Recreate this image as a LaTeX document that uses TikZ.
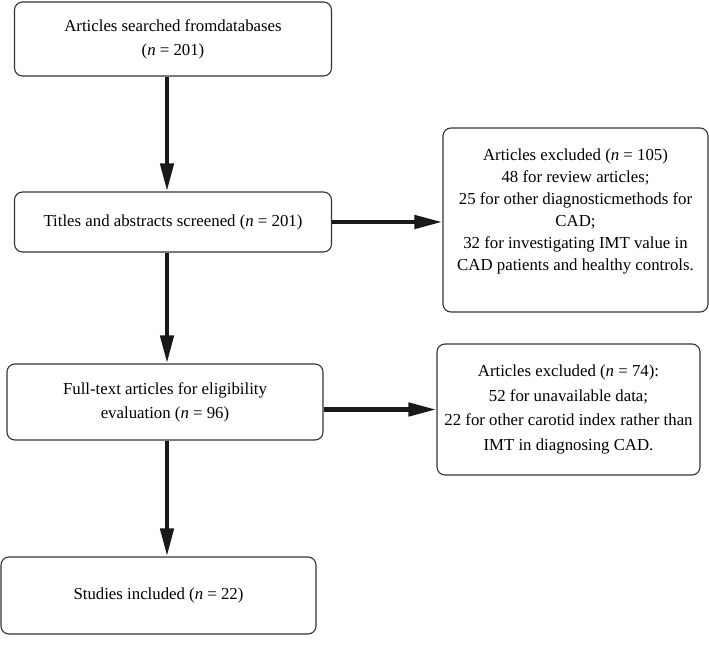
\documentclass[tikz,border=0pt]{standalone}
\usepackage{fontspec}
\setmainfont{Liberation Serif}
\usetikzlibrary{arrows.meta}
\begin{document}
\begin{tikzpicture}[x=1pt,y=-1pt,
  box/.style={draw=black!80,line width=1.1pt,rounded corners=8pt,align=center,
    inner sep=0pt,font=\fontsize{16.8}{24}\selectfont},
  arr/.style={line width=4.5pt,black!90,-{Triangle[length=28pt,width=13pt]}}]
  \useasboundingbox (0,0) rectangle (709,650);
  \coordinate (spine) at (167,0);
  \node [box,minimum width=317pt,minimum height=74pt] (search) at (173,39)
    {Articles searched fromdatabases\\(\textit{n} = 201)};
  \node [box,minimum width=317pt,minimum height=60pt] (screen) at (173,222)
    {Titles and abstracts screened (\textit{n} = 201)};
  \node [box,minimum width=265pt,minimum height=184pt,font=\fontsize{16.8}{22}\selectfont] (excl1) at (575.5,220)
    {Articles excluded (\textit{n} = 105)\\48 for review articles;\\25 for other diagnosticmethods for\\CAD;\\32 for investigating IMT value in\\CAD patients and healthy controls.\\[-2pt]\mbox{}};
  \node [box,minimum width=316pt,minimum height=76pt] (full) at (165,402)
    {Full-text articles for eligibility\\evaluation (\textit{n} = 96)};
  \node [box,minimum width=263pt,minimum height=131pt,font=\fontsize{16.8}{24.5}\selectfont] (excl2) at (568.5,409.5)
    {Articles excluded (\textit{n} = 74):\\52 for unavailable data;\\22 for other carotid index rather than\\IMT in diagnosing CAD.};
  \node [box,minimum width=315pt,minimum height=77pt] (incl) at (158.5,595.5)
    {Studies included (\textit{n} = 22)};
  % connectors
  \draw [arr] (search.south -| spine) -- (screen.north -| spine);
  \draw [arr] (screen.south -| spine) -- (full.north -| spine);
  \draw [arr] (full.south -| spine) -- (incl.north -| spine);
  \draw [arr] (screen.east) -- (screen.east -| excl1.west);
  \draw [arr] (full.east |- excl2.west) -- (excl2.west);
\end{tikzpicture}
\end{document}
